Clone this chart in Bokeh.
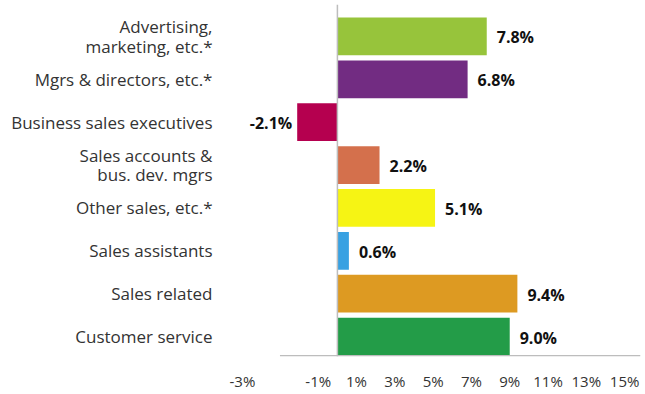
from bokeh.plotting import figure
from bokeh.models import ColumnDataSource, Span, FixedTicker, Range1d, LabelSet
from bokeh.core.properties import value
from bokeh.embed import file_html
from bokeh.resources import INLINE

categories = ["Advertising,\nmarketing, etc.*", "Mgrs & directors, etc.*", "Business sales executives",
              "Sales accounts &\nbus. dev. mgrs", "Other sales, etc.*", "Sales assistants",
              "Sales related", "Customer service"]
values = [7.8, 6.8, -2.1, 2.2, 5.1, 0.6, 9.4, 9.0]
colors = ["#97c43b", "#722c82", "#b5004f", "#d4704c", "#f6f414", "#38a1e2", "#dd9a22", "#239c48"]
x_ticks = [-3, -1, 1, 3, 5, 7, 9, 11, 13, 15]

FONT = "Open Sans"
n = len(categories)
ypos = [n - 1 - i for i in range(n)]
labels = ["%.1f%%" % v for v in values]
pos_idx = [i for i, v in enumerate(values) if v >= 0]
neg_idx = [i for i, v in enumerate(values) if v < 0]
pos_src = ColumnDataSource(dict(x=[values[i] for i in pos_idx], y=[ypos[i] for i in pos_idx],
                                t=[labels[i] for i in pos_idx]))
neg_src = ColumnDataSource(dict(x=[values[i] for i in neg_idx], y=[ypos[i] for i in neg_idx],
                                t=[labels[i] for i in neg_idx]))
src = ColumnDataSource(dict(y=ypos, right=values, left=[0] * n, color=colors))

x_end = 15.83
y_start = -0.465
p = figure(width=645, height=394, output_backend="svg", toolbar_location=None,
           x_range=Range1d(-6.21, x_end), y_range=Range1d(y_start, 7.744),
           min_border_left=218, min_border_right=5, min_border_top=4, min_border_bottom=38)
p.outline_line_color = None
p.grid.grid_line_color = None

p.hbar(y="y", left="left", right="right", height=0.88, color="color", source=src, line_color=None)

p.add_layout(Span(location=0, dimension="height", line_color="#bdbdbd", line_width=1.5))
p.segment(x0=[x_ticks[0]], x1=[x_end], y0=[-0.445], y1=[-0.445], line_color="#bdbdbd", line_width=1.5)

p.add_layout(LabelSet(x="x", y="y", text="t", source=pos_src, x_offset=10, y_offset=-1, text_align="left",
                      text_baseline="middle", text_font=value(FONT), text_font_style="bold",
                      text_font_size="16px", text_color="#111111"))
p.add_layout(LabelSet(x="x", y="y", text="t", source=neg_src, x_offset=-5, y_offset=-1, text_align="right",
                      text_baseline="middle", text_font=value(FONT), text_font_style="bold",
                      text_font_size="16px", text_color="#111111"))

p.xaxis.ticker = FixedTicker(ticks=x_ticks)
p.xaxis.major_label_overrides = {t: "%d%%" % t for t in x_ticks}
p.xaxis.major_label_overrides[x_ticks[0]] = "%d%%\u2003\u2003\u2003\u2003\u2003" % x_ticks[0]
p.xaxis.axis_line_color = None
p.xaxis.major_tick_line_color = None
p.xaxis.minor_tick_line_color = None
p.xaxis.major_tick_out = 0
p.xaxis.major_tick_in = 0
p.xaxis.axis_label_standoff = 0
p.xaxis.major_label_standoff = 14
p.xaxis.major_label_text_font = FONT
p.xaxis.major_label_text_font_size = "15px"
p.xaxis.major_label_text_color = "#333333"

p.yaxis.ticker = FixedTicker(ticks=ypos)
p.yaxis.major_label_overrides = {ypos[i]: categories[i] for i in range(n)}
p.yaxis.axis_line_color = None
p.yaxis.major_tick_line_color = None
p.yaxis.minor_tick_line_color = None
p.yaxis.major_tick_out = 0
p.yaxis.major_tick_in = 0
p.yaxis.axis_label_standoff = 0
p.yaxis.major_label_standoff = 6
p.yaxis.major_label_text_font = FONT
p.yaxis.major_label_text_font_size = "17px"
p.yaxis.major_label_text_line_height = 0.85
p.yaxis.major_label_text_color = "#333333"

open("out.html", "w").write(file_html(p, INLINE))
